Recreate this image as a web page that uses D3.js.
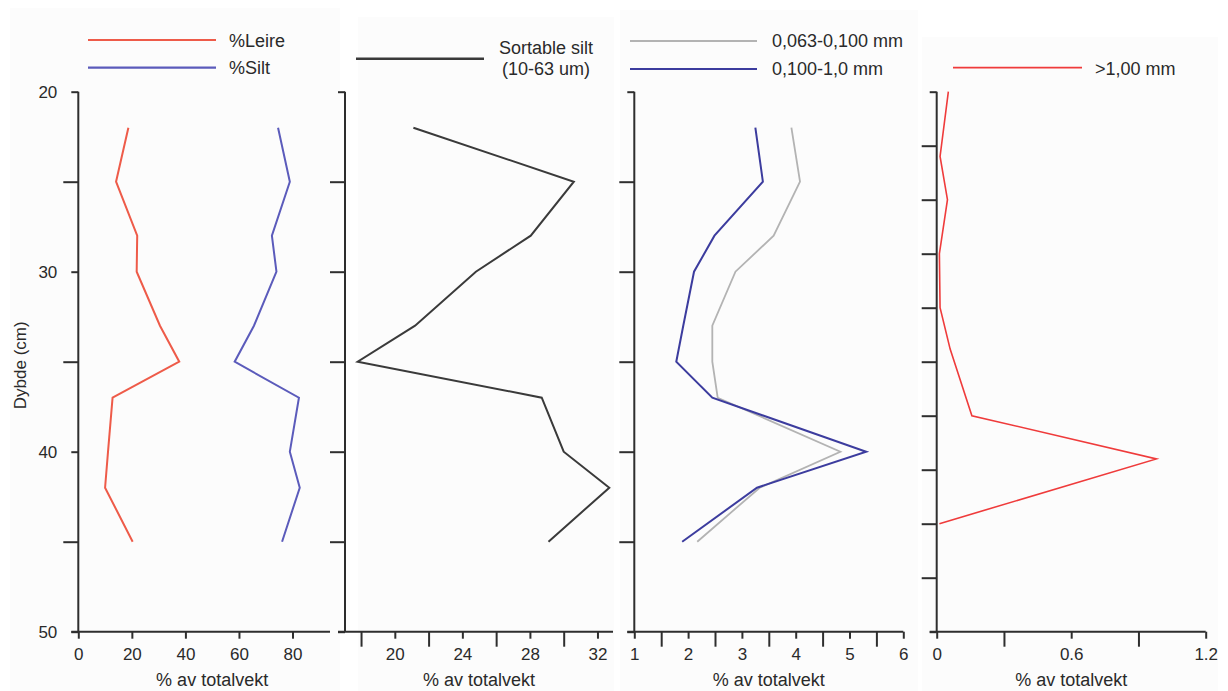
<!DOCTYPE html>
<html>
<head>
<meta charset="utf-8">
<script src="https://cdn.jsdelivr.net/npm/d3@7"></script>
<style>
  html, body { margin: 0; padding: 0; background: #ffffff; }
  svg { display: block; font-family: "Liberation Sans", Arial, sans-serif; }
</style>
</head>
<body>
<svg id="chart" width="1228" height="691"></svg>
<script>
// Sampling depths (cm) for the grain-size series
const depthCm = [22, 25, 28, 30, 33, 35, 37, 40, 42, 45];

// Panel 1: clay and silt (% of total weight)
const leire = [18.7, 14.1, 22.0, 21.8, 30.5, 37.7, 12.8, 11.1, 10.0, 20.3];
const silt  = [74.6, 79.0, 72.3, 74.0, 65.6, 58.4, 82.4, 79.0, 82.7, 76.1];

// Panel 2: sortable silt (10-63 um)
const sortableSilt = [21.1, 30.6, 28.05, 24.8, 21.2, 17.8, 28.7, 30.0, 32.7, 29.1];

// Panel 3: sand fractions
const sand063 = [3.92, 4.08, 3.59, 2.88, 2.45, 2.45, 2.55, 4.83, 3.33, 2.17];
const sand100 = [3.25, 3.39, 2.49, 2.11, 1.91, 1.78, 2.45, 5.31, 3.28, 1.89];

// Panel 4: coarse fraction >1,00 mm, sampled at its own depths
const gravelDepth = [20, 23.6, 26, 29, 32, 34.3, 38, 40.4, 44];
const gravel      = [0.052, 0.015, 0.048, 0.012, 0.015, 0.06, 0.157, 0.98, 0.012];

// Axis tick values
const depthLabels = [20, 30, 40, 50];
const xTitle = "% av totalvekt";

const svg = d3.select("#chart");

// light panel backdrops
const backdrops = [
  {x: 10, y: 8, w: 330, h: 683},
  {x: 358, y: 17, w: 256, h: 674},
  {x: 620, y: 10, w: 298, h: 681},
  {x: 922, y: 37, w: 296, h: 654}
];
svg.selectAll("rect.bg").data(backdrops).enter().append("rect")
  .attr("class", "bg")
  .attr("x", d => d.x).attr("y", d => d.y)
  .attr("width", d => d.w).attr("height", d => d.h)
  .attr("fill", "#fcfcfc");

const y = d3.scaleLinear().domain([20, 50]).range([91.7, 631.7]);

const panels = [
  {
    x: d3.scaleLinear().domain([0, 94]).range([78.3, 330]),
    major: [0, 20, 40, 60, 80], minor: [], fmt: d3.format("d"),
    yMajor: depthLabels, yMinor: [25, 35, 45], yLabels: true,
    titleShift: 8
  },
  {
    x: d3.scaleLinear().domain([17.05, 32.92]).range([345, 613]),
    major: [20, 24, 28, 32], minor: [18, 22, 26, 30], fmt: d3.format("d"),
    yMajor: [20, 50], yMinor: [25, 30, 35, 40, 45], yLabels: false,
    titleShift: 0
  },
  {
    x: d3.scaleLinear().domain([1, 6]).range([634.3, 903.3]),
    major: [1, 2, 3, 4, 5, 6], minor: [1.5, 2.5, 3.5, 4.5, 5.5], fmt: d3.format("d"),
    yMajor: [20, 50], yMinor: [25, 30, 35, 40, 45], yLabels: false,
    titleShift: 0
  },
  {
    x: d3.scaleLinear().domain([0, 1.2]).range([936.7, 1205.7]),
    major: [0, 0.6, 1.2], minor: [0.3, 0.9], fmt: d => d === 0 ? "0" : d3.format(".1f")(d),
    yMajor: [20, 50], yMinor: [23, 26, 29, 32, 35, 38, 41, 44, 47], yLabels: false,
    titleShift: 0
  }
];

const axisColor = "#2e2e2e";
const shortTick = 7, longTick = 15;

panels.forEach(p => {
  const g = svg.append("g");
  const x0 = p.x.range()[0], x1 = p.x.range()[1];

  // depth axis (left)
  const yMaj = g.append("g").attr("transform", `translate(${x0},0)`)
    .call(d3.axisLeft(y).tickValues(p.yMajor).tickSize(shortTick).tickSizeOuter(0)
      .tickFormat(p.yLabels ? d3.format("d") : ""));
  const yMin = g.append("g").attr("transform", `translate(${x0},0)`)
    .call(d3.axisLeft(y).tickValues(p.yMinor).tickSize(longTick).tickSizeOuter(0).tickFormat(""));

  // value axis (bottom)
  const xMaj = g.append("g").attr("transform", `translate(0,${y(50)})`)
    .call(d3.axisBottom(p.x).tickValues(p.major).tickSize(shortTick).tickSizeOuter(0)
      .tickFormat(p.fmt));
  const xMin = g.append("g").attr("transform", `translate(0,${y(50)})`)
    .call(d3.axisBottom(p.x).tickValues(p.minor).tickSize(longTick).tickSizeOuter(0).tickFormat(""));

  [yMaj, yMin, xMaj, xMin].forEach(a => {
    a.select(".domain").remove();
    a.selectAll(".tick line").attr("stroke", axisColor).attr("stroke-width", 2);
    a.selectAll(".tick text").attr("fill", "#2a2a2a").style("font-size", "17px")
      .style("font-family", "'Liberation Sans', Arial, sans-serif");
  });
  yMaj.selectAll(".tick text").attr("x", -21).attr("dy", "0.34em");
  xMaj.selectAll(".tick text").attr("y", 16).attr("dy", "0.71em");

  // axis lines
  g.append("line").attr("x1", x0).attr("x2", x0).attr("y1", y(20)).attr("y2", y(50))
    .attr("stroke", axisColor).attr("stroke-width", 2);
  g.append("line").attr("x1", x0 - shortTick).attr("x2", x1).attr("y1", y(50)).attr("y2", y(50))
    .attr("stroke", axisColor).attr("stroke-width", 2);

  // axis title
  g.append("text").attr("x", (x0 + x1) / 2 + p.titleShift).attr("y", 686)
    .attr("text-anchor", "middle").attr("fill", "#2a2a2a")
    .style("font-size", "18px").text(xTitle);
});

svg.append("text")
  .attr("transform", `translate(26,${y(35.2)}) rotate(-90)`)
  .attr("text-anchor", "middle").attr("fill", "#2a2a2a")
  .style("font-size", "17px").text("Dybde (cm)");

// data lines
function profile(xs, depths, scale, color, width) {
  const pts = depths.map((d, i) => [d, xs[i]]);
  svg.append("path").datum(pts)
    .attr("fill", "none").attr("stroke", color).attr("stroke-width", width)
    .attr("stroke-linejoin", "miter")
    .attr("d", d3.line().x(d => scale(d[1])).y(d => y(d[0])));
}

const red1 = "#ee5b49", blue1 = "#5b5bbb", dark2 = "#3a3a3a",
      grey3 = "#b3b3b3", blue3 = "#3c3c9e", red4 = "#ef3b3b";

profile(leire, depthCm, panels[0].x, red1, 2);
profile(silt, depthCm, panels[0].x, blue1, 2);
profile(sortableSilt, depthCm, panels[1].x, dark2, 2);
profile(sand063, depthCm, panels[2].x, grey3, 1.8);
profile(sand100, depthCm, panels[2].x, blue3, 2);
profile(gravel, gravelDepth, panels[3].x, red4, 1.6);

// legends
const legendItems = [
  {x1: 88, x2: 216, ly: 40, color: red1, w: 2.2, tx: 229, ty: [46.5], text: ["%Leire"], anchor: "start"},
  {x1: 88, x2: 216, ly: 67.7, color: blue1, w: 2.2, tx: 229, ty: [73.5], text: ["%Silt"], anchor: "start"},
  {x1: 356, x2: 484, ly: 58.7, color: dark2, w: 2.6, tx: 546, ty: [53.5, 74.5], text: ["Sortable silt", "(10-63 um)"], anchor: "middle"},
  {x1: 630, x2: 757, ly: 41, color: grey3, w: 1.8, tx: 772, ty: [47], text: ["0,063-0,100 mm"], anchor: "start"},
  {x1: 630, x2: 757, ly: 69, color: blue3, w: 2.2, tx: 772, ty: [74.5], text: ["0,100-1,0 mm"], anchor: "start"},
  {x1: 953, x2: 1082, ly: 67.7, color: red4, w: 1.8, tx: 1095, ty: [74.5], text: [">1,00 mm"], anchor: "start"}
];
legendItems.forEach(l => {
  svg.append("line").attr("x1", l.x1).attr("x2", l.x2).attr("y1", l.ly).attr("y2", l.ly)
    .attr("stroke", l.color).attr("stroke-width", l.w);
  l.text.forEach((t, i) => {
    svg.append("text").attr("x", l.tx).attr("y", l.ty[i])
      .attr("text-anchor", l.anchor).attr("fill", "#2a2a2a")
      .style("font-size", "18px").text(t);
  });
});
</script>
</body>
</html>
